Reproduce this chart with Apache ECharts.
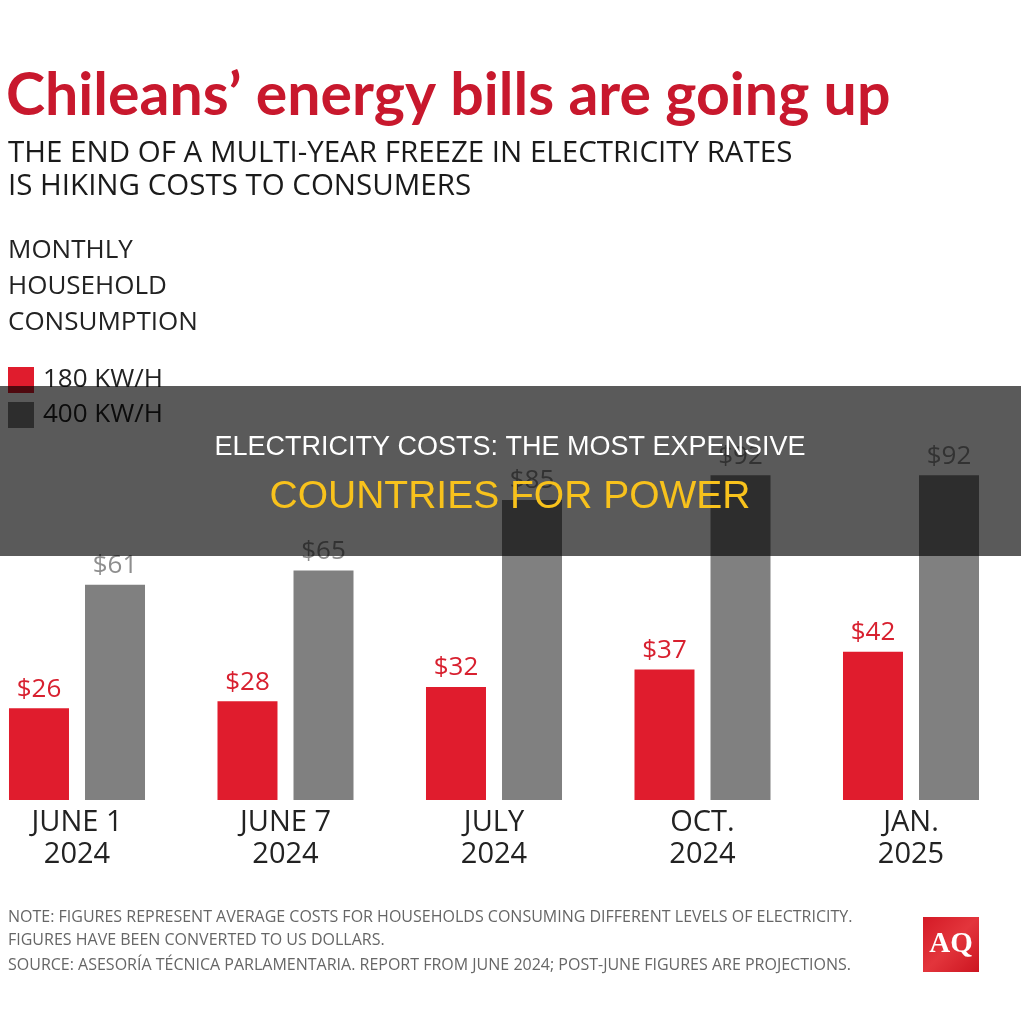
<!DOCTYPE html>
<html>
<head>
<meta charset="utf-8">
<title>Chileans' energy bills are going up</title>
<script src="https://cdn.jsdelivr.net/npm/echarts@6/dist/echarts.min.js"></script>
<style>
  html, body { margin: 0; padding: 0; background: #fff; }
  #chart { width: 1021px; height: 1024px; }
</style>
</head>
<body>
<div id="chart"></div>
<script>
// chart data
const categories = ['JUNE 1\n2024', 'JUNE 7\n2024', 'JULY\n2024', 'OCT.\n2024', 'JAN.\n2025']
const kwh180 = [26, 28, 32, 37, 42]
const kwh400 = [61, 65, 85, 92, 92]
const seriesNames = ['180 KW/H', '400 KW/H']

const RED = '#e01c2d'
const GREY = '#808080'
const sans = '"Open Sans", sans-serif'

const chart = echarts.init(document.getElementById('chart'))

const valueLabel = (color) => ({
  show: true,
  position: 'top',
  distance: 6,
  formatter: (p) => '$' + p.value,
  fontFamily: sans,
  fontSize: 26,
  lineHeight: 26,
  color
})

const option = {
  animation: false,
  backgroundColor: '#fff',
  title: [
    {
      text: 'Chileans\u2019 energy bills are going up',
      left: 6,
      top: 66,
      padding: 0,
      textStyle: { fontFamily: 'Lato', fontWeight: 'bold', fontSize: 59, lineHeight: 59, color: '#c8182d' }
    },
    {
      text: 'THE END OF A MULTI-YEAR FREEZE IN ELECTRICITY RATES\nIS HIKING COSTS TO CONSUMERS',
      left: 8,
      top: 137,
      padding: 0,
      textStyle: { fontFamily: sans, fontWeight: 'normal', fontSize: 29.5, lineHeight: 33, color: '#1a1a1a' }
    },
    {
      text: 'MONTHLY\nHOUSEHOLD\nCONSUMPTION',
      left: 8,
      top: 233,
      padding: 0,
      textStyle: { fontFamily: sans, fontWeight: 'normal', fontSize: 26, lineHeight: 36, color: '#222' }
    },
    {
      text: 'NOTE: FIGURES REPRESENT AVERAGE COSTS FOR HOUSEHOLDS CONSUMING DIFFERENT LEVELS OF ELECTRICITY.\nFIGURES HAVE BEEN CONVERTED TO US DOLLARS.',
      left: 8,
      top: 906,
      padding: 0,
      textStyle: { fontFamily: sans, fontWeight: 'normal', fontSize: 16, lineHeight: 23, color: '#666' }
    },
    {
      text: 'SOURCE: ASESOR\u00cdA T\u00c9CNICA PARLAMENTARIA. REPORT FROM JUNE 2024; POST-JUNE FIGURES ARE PROJECTIONS.',
      left: 8,
      top: 956,
      padding: 0,
      textStyle: { fontFamily: sans, fontWeight: 'normal', fontSize: 16, lineHeight: 19, color: '#666' }
    }
  ],
  legend: {
    orient: 'vertical',
    left: 8,
    top: 367,
    padding: 0,
    itemWidth: 26,
    itemHeight: 26,
    itemGap: 9,
    icon: 'rect',
    selectedMode: false,
    data: seriesNames,
    textStyle: { fontFamily: sans, fontSize: 26, color: '#222', padding: [0, 0, 0, 4] }
  },
  // categories sit on the grid edges so the first group can hug the left border
  grid: { left: 77, width: 834, top: 447, height: 353 },
  xAxis: {
    type: 'category',
    data: categories,
    boundaryGap: false,
    axisLine: { show: false },
    axisTick: { show: false },
    axisLabel: {
      margin: 7,
      fontFamily: sans,
      fontSize: 29,
      lineHeight: 32,
      color: '#222'
    }
  },
  yAxis: {
    type: 'value',
    min: 0,
    max: 100,
    show: false,
    splitLine: { show: false }
  },
  series: [
    {
      name: seriesNames[0],
      type: 'bar',
      data: kwh180,
      barWidth: 60,
      barGap: '26.7%',
      clip: false,
      itemStyle: { color: RED },
      label: valueLabel('#d8202f')
    },
    {
      name: seriesNames[1],
      type: 'bar',
      data: kwh400,
      barWidth: 60,
      clip: false,
      itemStyle: { color: GREY },
      label: valueLabel('#8e8e8e')
    }
  ],
  graphic: {
    elements: [
      // dark banner laid over the chart
      {
        type: 'rect',
        z: 100,
        shape: { x: 0, y: 386, width: 1021, height: 170 },
        style: { fill: 'rgba(0,0,0,0.647)' }
      },
      {
        type: 'text',
        z: 101,
        style: {
          text: 'ELECTRICITY COSTS: THE MOST EXPENSIVE',
          x: 510, y: 448,
          align: 'center', verticalAlign: 'middle',
          textAlign: 'center', textVerticalAlign: 'middle',
          font: '27px "Liberation Sans", Arial, sans-serif',
          fill: '#fff'
        }
      },
      {
        type: 'text',
        z: 101,
        style: {
          text: 'COUNTRIES FOR POWER',
          x: 510, y: 497,
          align: 'center', verticalAlign: 'middle',
          textAlign: 'center', textVerticalAlign: 'middle',
          font: '39px "Liberation Sans", Arial, sans-serif',
          fill: '#f8c21c'
        }
      },
      // AQ logo
      {
        type: 'rect',
        z: 10,
        shape: { x: 923, y: 917, width: 56, height: 55 },
        style: {
          fill: new echarts.graphic.LinearGradient(0, 0, 1, 1, [
            { offset: 0, color: '#d41a26' },
            { offset: 0.5, color: '#e3353c' },
            { offset: 1, color: '#cc1520' }
          ])
        }
      },
      {
        type: 'text',
        z: 11,
        style: {
          text: 'AQ',
          x: 951, y: 945,
          align: 'center', verticalAlign: 'middle',
          textAlign: 'center', textVerticalAlign: 'middle',
          font: 'bold 29px "Liberation Serif", serif',
          fill: '#fff'
        }
      }
    ]
  }
}

chart.setOption(option)
</script>
</body>
</html>
